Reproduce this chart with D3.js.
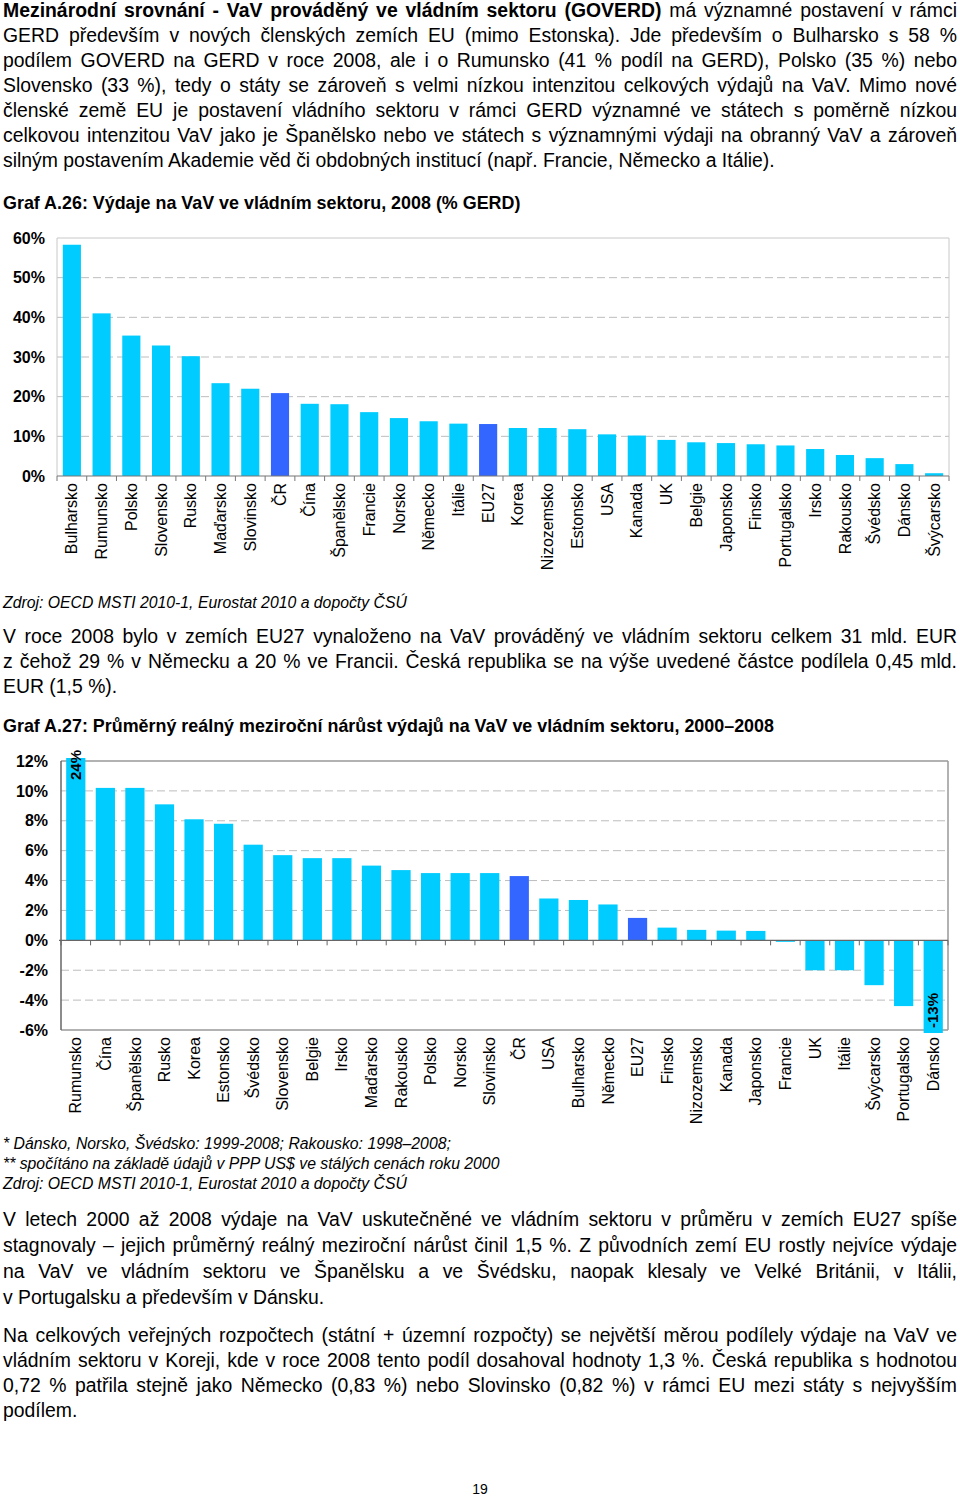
<!DOCTYPE html>
<html><head><meta charset="utf-8">
<script src="https://cdn.jsdelivr.net/npm/d3@7"></script>
<style>body{margin:0;background:#fff} svg{display:block}</style>
</head><body>
<script>
// ---------- DATA ----------
const cats1 = ["Bulharsko","Rumunsko","Polsko","Slovensko","Rusko","Maďarsko","Slovinsko","ČR","Čína","Španělsko","Francie","Norsko","Německo","Itálie","EU27","Korea","Nizozemsko","Estonsko","USA","Kanada","UK","Belgie","Japonsko","Finsko","Portugalsko","Irsko","Rakousko","Švédsko","Dánsko","Švýcarsko"];
const vals1 = [58.3,41.0,35.4,32.9,30.2,23.4,22.0,20.9,18.2,18.1,16.1,14.6,13.8,13.2,13.1,12.1,12.1,11.8,10.5,10.2,9.1,8.5,8.3,8.0,7.7,6.8,5.3,4.5,3.0,0.7];
const ticks1 = [0,10,20,30,40,50,60];

const cats2 = ["Rumunsko","Čína","Španělsko","Rusko","Korea","Estonsko","Švédsko","Slovensko","Belgie","Irsko","Maďarsko","Rakousko","Polsko","Norsko","Slovinsko","ČR","USA","Bulharsko","Německo","EU27","Finsko","Nizozemsko","Kanada","Japonsko","Francie","UK","Itálie","Švýcarsko","Portugalsko","Dánsko"];
const vals2 = [24,10.2,10.2,9.1,8.1,7.8,6.4,5.7,5.5,5.5,5.0,4.7,4.5,4.5,4.5,4.3,2.8,2.7,2.4,1.5,0.85,0.7,0.65,0.63,-0.1,-2.0,-2.0,-3.0,-4.4,-13];
const ticks2 = [-6,-4,-2,0,2,4,6,8,10,12];

const highlight = ["ČR","EU27"];

const title1 = "Graf A.26: Výdaje na VaV ve vládním sektoru, 2008 (% GERD)";
const title2 = "Graf A.27: Průměrný reálný meziroční nárůst výdajů na VaV ve vládním sektoru, 2000–2008";
const source1 = ["Zdroj: OECD MSTI 2010-1, Eurostat 2010 a dopočty ČSÚ"];
const notes2 = ["* Dánsko, Norsko, Švédsko: 1999-2008; Rakousko: 1998–2008;",
  "** spočítáno na základě údajů v PPP US$ ve stálých cenách roku 2000",
  "Zdroj: OECD MSTI 2010-1, Eurostat 2010 a dopočty ČSÚ"];

const para1 = [
  ["Mezinárodní srovnání - VaV prováděný ve vládním sektoru (GOVERD)", " má významné postavení v rámci"],
  ["", "GERD především v nových členských zemích EU (mimo Estonska). Jde především o Bulharsko s 58 %"],
  ["", "podílem GOVERD na GERD v roce 2008, ale i o Rumunsko (41 % podíl na GERD), Polsko (35 %) nebo"],
  ["", "Slovensko (33 %), tedy o státy se zároveň s velmi nízkou intenzitou celkových výdajů na VaV. Mimo nové"],
  ["", "členské země EU je postavení vládního sektoru v rámci GERD významné ve státech s poměrně nízkou"],
  ["", "celkovou intenzitou VaV jako je Španělsko nebo ve státech s významnými výdaji na obranný VaV a zároveň"],
  ["", "silným postavením Akademie věd či obdobných institucí (např. Francie, Německo a Itálie)."]
];
const para2 = [
  "V roce 2008 bylo v zemích EU27 vynaloženo na VaV prováděný ve vládním sektoru celkem 31 mld. EUR",
  "z čehož 29 % v Německu a 20 % ve Francii. Česká republika se na výše uvedené částce podílela 0,45 mld.",
  "EUR (1,5 %)."
];
const para3 = [
  "V letech 2000 až 2008 výdaje na VaV uskutečněné ve vládním sektoru v průměru v zemích EU27 spíše",
  "stagnovaly – jejich průměrný reálný meziroční nárůst činil 1,5 %. Z původních zemí EU rostly nejvíce výdaje",
  "na VaV ve vládním sektoru ve Španělsku a ve Švédsku, naopak klesaly ve Velké Británii, v Itálii,",
  "v Portugalsku a především v Dánsku."
];
const para4 = [
  "Na celkových veřejných rozpočtech (státní + územní rozpočty) se největší měrou podílely výdaje na VaV ve",
  "vládním sektoru v Koreji, kde v roce 2008 tento podíl dosahoval hodnoty 1,3 %. Česká republika s hodnotou",
  "0,72 % patřila stejně jako Německo (0,83 %) nebo Slovinsko (0,82 %) v rámci EU mezi státy s nejvyšším",
  "podílem."
];

// ---------- SETUP ----------
const FONT = "'Liberation Sans', Arial, sans-serif";
const C_LIGHT = "#00CCFF", C_DARK = "#3366FF";
const svg = d3.select("body").append("svg").attr("width",960).attr("height",1497)
  .style("font-family", FONT);

const TX0 = 3, TX1 = 957, PSIZE = 19.4;

function textLines(lines, y0, lh, size, style) {
  lines.forEach((ln, i) => {
    const parts = Array.isArray(ln) ? ln : ["", ln];
    const justify = i < lines.length - 1;
    const t = svg.append("text").attr("x", TX0).attr("y", y0 + i*lh)
      .attr("font-size", size).attr("fill", "#000");
    if (style === "italic") t.attr("font-style", "italic");
    if (parts[0]) t.append("tspan").attr("font-weight","bold").text(parts[0]);
    t.append("tspan").text(parts[1]);
    if (justify && style !== "italic") {
      const w = t.node().getComputedTextLength();
      const full = parts[0] + parts[1];
      const n = (full.match(/ /g) || []).length;
      if (n > 0) t.attr("word-spacing", ((TX1 - TX0) - w) / n);
    }
  });
}

textLines(para1, 17, 25, PSIZE);
svg.append("text").attr("x",TX0).attr("y",209).attr("font-size",17.9).attr("font-weight","bold").text(title1);

// ---------- CHART 1 ----------
const x1 = d3.scaleBand().domain(cats1).range([57,949]).paddingInner(0.39).paddingOuter(0.195);
const y1 = d3.scaleLinear().domain([0,60]).range([476,238]);
const g1 = svg.append("g");

g1.selectAll("line.grid").data(ticks1.filter(t => t>0 && t<60)).join("line")
  .attr("x1",57).attr("x2",949).attr("y1",d=>y1(d)).attr("y2",d=>y1(d))
  .attr("stroke","#bdbdbd").attr("stroke-dasharray","8,4");
g1.append("line").attr("x1",57).attr("x2",949).attr("y1",y1(60)).attr("y2",y1(60)).attr("stroke","#c8c8c8");
g1.append("line").attr("x1",949).attr("x2",949).attr("y1",y1(60)).attr("y2",y1(0)).attr("stroke","#c8c8c8");
g1.append("line").attr("x1",57).attr("x2",57).attr("y1",y1(60)).attr("y2",y1(0)).attr("stroke","#c8c8c8");

g1.selectAll("rect").data(cats1).join("rect")
  .attr("x",d=>x1(d)).attr("width",x1.bandwidth())
  .attr("y",(d,i)=>y1(vals1[i])).attr("height",(d,i)=>y1(0)-y1(vals1[i]))
  .attr("fill",d=>highlight.includes(d)?C_DARK:C_LIGHT);

g1.append("line").attr("x1",57).attr("x2",949).attr("y1",y1(0)).attr("y2",y1(0)).attr("stroke","#777").attr("stroke-width",1.2);
const b1 = d3.range(cats1.length+1).map(i => 57 + x1.step()*(x1.paddingOuter() - x1.paddingInner()/2) + i*x1.step());
g1.selectAll("line.tk").data(b1).join("line")
  .attr("x1",d=>d).attr("x2",d=>d).attr("y1",y1(0)).attr("y2",y1(0)+5).attr("stroke","#777");

const ya1 = g1.append("g").attr("transform","translate(57,0)")
  .call(d3.axisLeft(y1).tickValues(ticks1).tickFormat(d=>d+"%").tickSize(0).tickPadding(12));
ya1.select(".domain").remove();
ya1.selectAll("text").attr("font-family",FONT).attr("font-size",16).attr("font-weight","bold").attr("fill","#000");

g1.selectAll("text.cat").data(cats1).join("text")
  .attr("transform",d=>`translate(${x1(d)+x1.bandwidth()/2},483) rotate(-90)`)
  .attr("dy","0.35em").attr("text-anchor","end").attr("font-size",16).text(d=>d);

textLines(source1, 608, 20, 15.8, "italic");
textLines(para2, 643, 25, PSIZE);
svg.append("text").attr("x",TX0).attr("y",732).attr("font-size",17.9).attr("font-weight","bold").text(title2);

// ---------- CHART 2 ----------
const x2 = d3.scaleBand().domain(cats2).range([61,948]).paddingInner(0.35).paddingOuter(0.175);
const y2 = d3.scaleLinear().domain([-6,12]).range([1030,761]);
const clampV = v => Math.max(-6.2, Math.min(12.2, v));
const g2 = svg.append("g");

g2.selectAll("line.grid").data(ticks2.filter(t => t!==0 && t>-6 && t<12)).join("line")
  .attr("x1",61).attr("x2",948).attr("y1",d=>y2(d)).attr("y2",d=>y2(d))
  .attr("stroke","#bdbdbd").attr("stroke-dasharray","8,4");
g2.append("line").attr("x1",61).attr("x2",948).attr("y1",y2(12)).attr("y2",y2(12)).attr("stroke","#999").attr("stroke-width",1.5);
g2.append("line").attr("x1",61).attr("x2",948).attr("y1",y2(-6)).attr("y2",y2(-6)).attr("stroke","#999").attr("stroke-width",1.5);
g2.append("line").attr("x1",948).attr("x2",948).attr("y1",y2(12)).attr("y2",y2(-6)).attr("stroke","#999").attr("stroke-width",1.5);
g2.append("line").attr("x1",61).attr("x2",61).attr("y1",y2(12)).attr("y2",y2(-6)).attr("stroke","#666").attr("stroke-width",1.5);

g2.selectAll("rect").data(cats2).join("rect")
  .attr("x",d=>x2(d)).attr("width",x2.bandwidth())
  .attr("y",(d,i)=>Math.min(y2(0),y2(clampV(vals2[i]))))
  .attr("height",(d,i)=>Math.max(Math.abs(y2(0)-y2(clampV(vals2[i]))),1))
  .attr("fill",d=>highlight.includes(d)?C_DARK:C_LIGHT);

g2.append("line").attr("x1",59).attr("x2",948).attr("y1",y2(0)).attr("y2",y2(0)).attr("stroke","#666").attr("stroke-width",1.3);
const b2 = d3.range(cats2.length+1).map(i => 61 + x2.step()*(x2.paddingOuter() - x2.paddingInner()/2) + i*x2.step());
g2.selectAll("line.tk").data(b2).join("line")
  .attr("x1",d=>d).attr("x2",d=>d).attr("y1",y2(0)).attr("y2",y2(0)+5).attr("stroke","#666");

const ya2 = g2.append("g").attr("transform","translate(61,0)")
  .call(d3.axisLeft(y2).tickValues(ticks2).tickFormat(d=>d+"%").tickSize(0).tickPadding(13));
ya2.select(".domain").remove();
ya2.selectAll("text").attr("font-family",FONT).attr("font-size",16).attr("font-weight","bold").attr("fill","#000");

// labels for clipped bars
const clipped = cats2.map((c,i)=>({c, v: vals2[i]})).filter(d => d.v > 12 || d.v < -6);
g2.selectAll("text.val").data(clipped).join("text")
  .attr("transform",d=>`translate(${x2(d.c)+x2.bandwidth()/2},${d.v>0 ? y2(12)+19 : y2(-6)-2}) rotate(-90)`)
  .attr("dy","0.35em").attr("text-anchor","start").attr("font-size",15).attr("font-weight","bold")
  .text(d=>d.v+"%");

g2.selectAll("text.cat").data(cats2).join("text")
  .attr("transform",d=>`translate(${x2(d)+x2.bandwidth()/2},1037) rotate(-90)`)
  .attr("dy","0.35em").attr("text-anchor","end").attr("font-size",16).text(d=>d);

textLines(notes2, 1149, 20, 15.8, "italic");
textLines(para3, 1226, 26, PSIZE);
textLines(para4, 1342, 25, PSIZE);
svg.append("text").attr("x",480).attr("y",1494).attr("text-anchor","middle").attr("font-size",14).text("19");
</script>
</body></html>
